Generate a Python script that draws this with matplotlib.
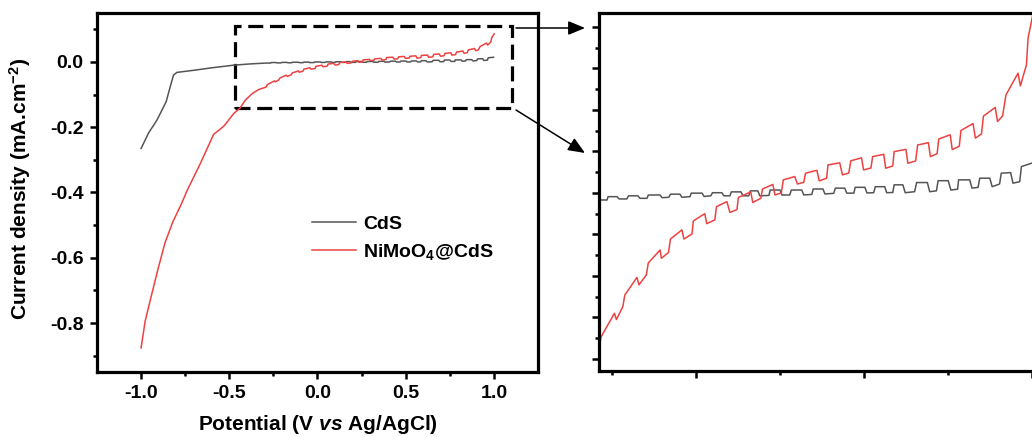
import matplotlib
matplotlib.use("Agg")
import matplotlib.pyplot as plt
from matplotlib.patches import Rectangle
from matplotlib.ticker import MultipleLocator

plt.rcParams["font.family"] = ["Liberation Sans", "DejaVu Sans"]
plt.rcParams["font.weight"] = "bold"
plt.rcParams["axes.unicode_minus"] = False
plt.rcParams["mathtext.fontset"] = "custom"
plt.rcParams["mathtext.rm"] = "Liberation Sans:bold"
plt.rcParams["mathtext.bf"] = "Liberation Sans:bold"
plt.rcParams["mathtext.it"] = "Liberation Sans:bold:italic"
plt.rcParams["mathtext.default"] = "rm"

# LSV data (potential in V vs Ag/AgCl, current density in mA/cm2)
cds_v = [-1.000, -0.958, -0.910, -0.858, -0.835, -0.816, -0.797, -0.693,
         -0.600, -0.477, -0.380,
         -0.290, -0.266, -0.263, -0.236, -0.230, -0.207, -0.202, -0.174,
         -0.168, -0.147, -0.143, -0.108, -0.102, -0.082, -0.077, -0.049,
         -0.043, -0.019, -0.015, 0.017, 0.023, 0.043, 0.048, 0.076,
         0.082, 0.100, 0.104, 0.133, 0.139, 0.156, 0.161, 0.183,
         0.189, 0.216, 0.220, 0.249, 0.255, 0.278, 0.283, 0.314,
         0.320, 0.344, 0.348, 0.377, 0.383, 0.409, 0.414, 0.442,
         0.448, 0.469, 0.473, 0.502, 0.508, 0.528, 0.533, 0.561,
         0.567, 0.585, 0.589, 0.615, 0.622, 0.650, 0.656, 0.688,
         0.695, 0.715, 0.720, 0.750, 0.758, 0.778, 0.781, 0.814,
         0.821, 0.839, 0.844, 0.874, 0.881, 0.903, 0.908, 0.936,
         0.943, 0.963, 0.968, 0.998]
cds_j = [-0.265, -0.218, -0.178, -0.122, -0.076, -0.040, -0.032, -0.025,
         -0.018, -0.010, -0.006,
         -0.0034, -0.0034, -0.0018, -0.0018, -0.0029, -0.0029, -0.0014, -0.0014,
         -0.0026, -0.0026, -0.0010, -0.0010, -0.0023, -0.0021, -0.0006, -0.0006,
         -0.0021, -0.0018, -0.0001, -0.0001, -0.0017, -0.0014, 0.0001, 0.0001,
         -0.0014, -0.0014, 0.0005, 0.0005, -0.0014, -0.0014, 0.0010, 0.0010,
         -0.0014, -0.0012, 0.0014, 0.0014, -0.0010, -0.0010, 0.0014, 0.0014,
         -0.0010, -0.0007, 0.0019, 0.0019, -0.0005, -0.0002, 0.0023, 0.0023,
         -0.0001, -0.0001, 0.0027, 0.0027, 0.0000, 0.0001, 0.0030, 0.0030,
         0.0001, 0.0002, 0.0039, 0.0039, 0.0001, 0.0006, 0.0050, 0.0050,
         0.0006, 0.0010, 0.0059, 0.0059, 0.0014, 0.0018, 0.0063, 0.0063,
         0.0023, 0.0027, 0.0071, 0.0071, 0.0030, 0.0043, 0.0095, 0.0098,
         0.0047, 0.0054, 0.0127, 0.0143]

nimo_v = [-1.000, -0.977, -0.940, -0.902, -0.864, -0.820, -0.769, -0.740,
          -0.712, -0.665, -0.589, -0.545, -0.528, -0.475, -0.440, -0.409,
          -0.370, -0.335,
          -0.290, -0.284, -0.244, -0.238, -0.219, -0.213, -0.177, -0.171,
          -0.149, -0.143, -0.108, -0.104, -0.083, -0.077, -0.043, -0.037,
          -0.013, -0.009, 0.025, 0.031, 0.055, 0.060, 0.091, 0.100,
          0.121, 0.125, 0.162, 0.168, 0.192, 0.197, 0.228, 0.234,
          0.253, 0.259, 0.293, 0.301, 0.320, 0.325, 0.359, 0.366,
          0.388, 0.392, 0.427, 0.435, 0.454, 0.460, 0.492, 0.498,
          0.520, 0.525, 0.558, 0.564, 0.585, 0.589, 0.624, 0.630,
          0.653, 0.659, 0.691, 0.697, 0.717, 0.722, 0.756, 0.762,
          0.783, 0.788, 0.824, 0.831, 0.849, 0.855, 0.890, 0.897,
          0.912, 0.922, 0.958, 0.965, 0.983, 0.988, 0.998, 1.002]
nimo_j = [-0.876, -0.794, -0.712, -0.630, -0.553, -0.490, -0.432, -0.395,
          -0.364, -0.312, -0.222, -0.203, -0.195, -0.158, -0.142, -0.117,
          -0.097, -0.085,
          -0.0766, -0.0694, -0.0580, -0.0610, -0.0548, -0.0492, -0.0407, -0.0443,
          -0.0395, -0.0337, -0.0275, -0.0315, -0.0287, -0.0222, -0.0178, -0.0222,
          -0.0198, -0.0135, -0.0100, -0.0148, -0.0130, -0.0066, -0.0042, -0.0094,
          -0.0080, -0.0022, 0.0005, -0.0046, -0.0026, 0.0019, 0.0041, -0.0010,
          0.0000, 0.0063, 0.0079, 0.0043, 0.0051, 0.0095, 0.0109, 0.0058,
          0.0071, 0.0135, 0.0145, 0.0087, 0.0096, 0.0155, 0.0169, 0.0111,
          0.0120, 0.0175, 0.0186, 0.0119, 0.0130, 0.0199, 0.0210, 0.0143,
          0.0154, 0.0231, 0.0242, 0.0175, 0.0189, 0.0260, 0.0280, 0.0209,
          0.0225, 0.0301, 0.0334, 0.0264, 0.0284, 0.0370, 0.0412, 0.0344,
          0.0371, 0.0472, 0.0577, 0.0516, 0.0617, 0.0747, 0.0827, 0.0860]

labels = ["CdS", "NiMoO$_4$@CdS"]
colors = ["#555555", "#ec4242"]

# zoomed window drawn on the main panel
box_v = (-0.47, 1.10)
box_j = (-0.14, 0.11)

fig = plt.figure(figsize=(10.32, 4.37), dpi=100)
ax1 = fig.add_axes([0.094, 0.1487, 0.4273, 0.8216])
ax2 = fig.add_axes([0.5804, 0.151, 0.436, 0.8193])

for ax in (ax1, ax2):
    ax.plot(cds_v, cds_j, color=colors[0], lw=1.1, label=labels[0])
    ax.plot(nimo_v, nimo_j, color=colors[1], lw=1.1, label=labels[1])
    for s in ax.spines.values():
        s.set_linewidth(2.3)
    ax.tick_params(which="major", direction="out", length=4.7, width=1.8,
                   labelsize=14, pad=5)
    ax.tick_params(which="minor", direction="out", length=2.9, width=1.8)

ax1.set_xlim(-1.25, 1.25)
ax1.set_ylim(-0.95, 0.15)
ax1.set_xticks([-1.0, -0.5, 0.0, 0.5, 1.0])
ax1.set_xticks([-0.75, -0.25, 0.25, 0.75], minor=True)
ax1.set_yticks([-0.8, -0.6, -0.4, -0.2, 0.0])
ax1.set_yticks([-0.9, -0.7, -0.5, -0.3, -0.1, 0.1], minor=True)
ax1.set_xticklabels(["%.1f" % t for t in ax1.get_xticks()])
ax1.set_yticklabels(["%.1f" % t for t in ax1.get_yticks()])
ax1.set_xlabel(r"Potential (V $\mathit{vs}$ Ag/AgCl)", fontsize=15,
               fontweight="bold")
ax1.set_ylabel(r"Current density (mA.cm$^{-2}$)", fontsize=15,
               fontweight="bold")
ax1.xaxis.set_label_coords(0.5, -0.115)
ax1.yaxis.set_label_coords(-0.145, 0.51)
ax1.legend(frameon=False, loc="center left", bbox_to_anchor=(0.487, 0.372),
           borderaxespad=0, borderpad=0, handlelength=2.3, handletextpad=0.35,
           labelspacing=0.45, prop={"weight": "bold", "size": 14})

ax1.add_patch(Rectangle((box_v[0], box_j[0]), box_v[1] - box_v[0],
                        box_j[1] - box_j[0], fill=False, ec="black", lw=2.3,
                        ls=(0, (4.7, 2.1))))

ax2.set_xlim(-0.29, 1.05)
ax2.set_ylim(-0.0858, 0.0867)
ax2.set_xticks([0.0, 0.5, 1.0])
ax2.set_xticks([-0.25, 0.25, 0.75], minor=True)
ax2.yaxis.set_major_locator(MultipleLocator(0.02))
ax2.yaxis.set_minor_locator(MultipleLocator(0.01))
ax2.tick_params(labelleft=False, labelbottom=False)

arrow = dict(arrowstyle="-|>,head_length=0.6,head_width=0.25", color="black",
             lw=1.1, mutation_scale=17, shrinkA=0, shrinkB=0)
ax1.annotate("", xy=(585, 409), xycoords="figure pixels",
             xytext=(516, 409), textcoords="figure pixels",
             arrowprops=arrow, annotation_clip=False)
ax1.annotate("", xy=(585, 284), xycoords="figure pixels",
             xytext=(516, 327), textcoords="figure pixels",
             arrowprops=arrow, annotation_clip=False)

fig.savefig("out.png", dpi=100)
